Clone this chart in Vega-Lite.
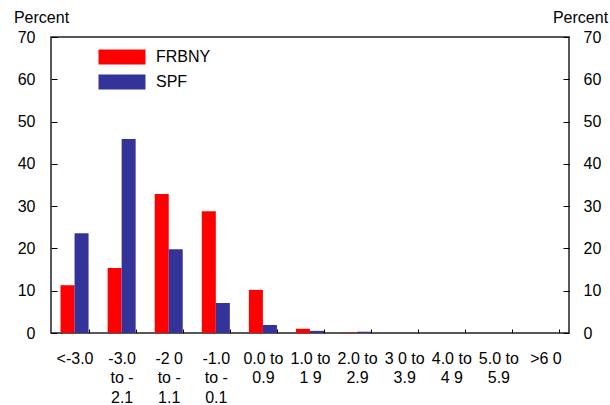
{
  "$schema": "https://vega.github.io/schema/vega-lite/v6.json",
  "width": 518,
  "height": 296,
  "autosize": {"type": "none"},
  "padding": {"left": 51, "top": 37, "right": 41, "bottom": 72},
  "background": "white",
  "config": {
    "view": {"stroke": "#222", "strokeWidth": 1.5},
    "font": "Liberation Sans",
    "axis": {
      "labelFont": "Liberation Sans",
      "labelFontSize": 16,
      "labelColor": "#000",
      "titleFont": "Liberation Sans",
      "titleFontSize": 16,
      "titleFontWeight": "normal",
      "titleColor": "#000",
      "grid": false,
      "domain": false,
      "tickColor": "#000"
    },
    "legend": {"labelFont": "Liberation Sans", "labelFontSize": 16, "labelColor": "#000"}
  },
  "data": {
    "values": [
      {"bin": "<-3.0", "series": "FRBNY", "value": 11.3},
      {"bin": "<-3.0", "series": "SPF", "value": 23.6},
      {"bin": "-3.0 to -2.1", "series": "FRBNY", "value": 15.4},
      {"bin": "-3.0 to -2.1", "series": "SPF", "value": 45.9},
      {"bin": "-2 0 to -1.1", "series": "FRBNY", "value": 32.9},
      {"bin": "-2 0 to -1.1", "series": "SPF", "value": 19.8},
      {"bin": "-1.0 to -0.1", "series": "FRBNY", "value": 28.8},
      {"bin": "-1.0 to -0.1", "series": "SPF", "value": 7.1},
      {"bin": "0.0 to 0.9", "series": "FRBNY", "value": 10.2},
      {"bin": "0.0 to 0.9", "series": "SPF", "value": 1.9},
      {"bin": "1.0 to 1 9", "series": "FRBNY", "value": 1.0},
      {"bin": "1.0 to 1 9", "series": "SPF", "value": 0.5},
      {"bin": "2.0 to 2.9", "series": "FRBNY", "value": 0.1},
      {"bin": "2.0 to 2.9", "series": "SPF", "value": 0.3},
      {"bin": "3 0 to 3.9", "series": "FRBNY", "value": 0},
      {"bin": "3 0 to 3.9", "series": "SPF", "value": 0},
      {"bin": "4.0 to 4 9", "series": "FRBNY", "value": 0},
      {"bin": "4.0 to 4 9", "series": "SPF", "value": 0},
      {"bin": "5.0 to 5.9", "series": "FRBNY", "value": 0},
      {"bin": "5.0 to 5.9", "series": "SPF", "value": 0},
      {"bin": ">6 0", "series": "FRBNY", "value": 0},
      {"bin": ">6 0", "series": "SPF", "value": 0}
    ]
  },
  "encoding": {
    "x": {
      "field": "bin",
      "type": "nominal",
      "sort": null,
      "scale": {"paddingInner": 0.405, "paddingOuter": 0.2025},
      "axis": {
        "title": null,
        "labelAngle": 0,
        "tickBand": "extent",
        "tickSize": -4,
        "labelPadding": 21,
        "labelOverlap": false,
        "labelBound": false,
        "labelFlush": false,
        "labelLineHeight": 19.5,
        "labelBaseline": "top",
        "labelExpr": "indexof(datum.label, ' to -') > 0 ? [split(datum.label, ' to -')[0], 'to -', split(datum.label, ' to -')[1]] : (indexof(datum.label, ' to ') > 0 ? [split(datum.label, ' to ')[0] + ' to', split(datum.label, ' to ')[1]] : datum.label)"
      }
    },
    "xOffset": {"field": "series", "type": "nominal", "sort": ["FRBNY", "SPF"]},
    "y": {
      "field": "value",
      "type": "quantitative",
      "scale": {"domain": [0, 70], "nice": false}
    },
    "color": {
      "field": "series",
      "type": "nominal",
      "scale": {"domain": ["FRBNY", "SPF"], "range": ["#ff0000", "#333399"]}
    }
  },
  "layer": [
    {
      "mark": {"type": "bar"},
      "encoding": {
        "y": {
          "field": "value",
          "type": "quantitative",
          "scale": {"domain": [0, 70], "nice": false},
          "axis": {
            "orient": "left",
            "values": [0, 10, 20, 30, 40, 50, 60, 70],
            "tickSize": -6,
            "labelPadding": 22,
            "title": "Percent",
            "titleAngle": 0,
            "titleAlign": "center",
            "titleBaseline": "alphabetic",
            "titleX": -10,
            "titleY": -15
          }
        },
        "color": {
          "field": "series",
          "type": "nominal",
          "scale": {"domain": ["FRBNY", "SPF"], "range": ["#ff0000", "#333399"]},
          "legend": {
            "title": null,
            "orient": "none",
            "legendX": 59,
            "legendY": 8,
            "padding": 0,
            "symbolType": "M-2,-0.64H2V0.64H-2Z",
            "symbolSize": 552,
            "symbolStrokeWidth": 0,
            "symbolOpacity": 1,
            "rowPadding": 5,
            "labelOffset": 22
          }
        }
      }
    },
    {
      "mark": {"type": "bar", "opacity": 0},
      "encoding": {
        "x": {"field": "bin", "type": "nominal", "sort": null, "axis": null},
        "y": {
          "field": "value",
          "type": "quantitative",
          "scale": {"domain": [0, 70], "nice": false},
          "axis": {
            "orient": "right",
            "values": [0, 10, 20, 30, 40, 50, 60, 70],
            "tickSize": -6,
            "labelPadding": 20,
            "title": "Percent",
            "titleAngle": 0,
            "titleAlign": "center",
            "titleBaseline": "alphabetic",
            "titleX": 11,
            "titleY": -15
          }
        },
        "color": {"field": "series", "type": "nominal", "legend": null}
      }
    }
  ],
  "resolve": {"axis": {"y": "independent", "x": "independent"}}
}
